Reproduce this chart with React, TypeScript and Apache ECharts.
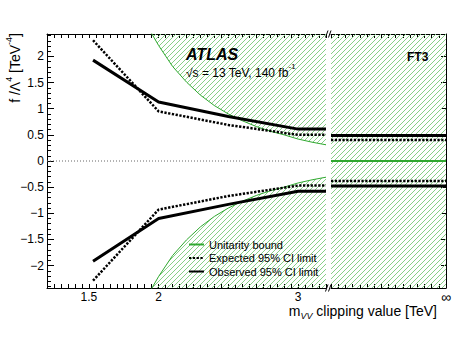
import React, { useEffect, useRef } from 'react';
import * as echarts from 'echarts';

const FONT = '"Liberation Sans", Arial, Helvetica, sans-serif';

// Clipping values (TeV) where the limits were evaluated (left panel)
const clipX = [1.53, 2.0, 2.5, 3.0, 3.2];
const observedUp = [1.93, 1.13, 0.85, 0.61, 0.61];
const expectedUp = [2.31, 0.95, 0.69, 0.5, 0.5];
const observedDown = [-1.92, -1.1, -0.83, -0.58, -0.58];
const expectedDown = [-2.29, -0.93, -0.67, -0.47, -0.47];

// Unitarity bound (left panel)
const unitX = [1.9, 1.95, 2.0, 2.1, 2.2, 2.3, 2.4, 2.5, 2.6, 2.7, 2.8, 2.9, 3.0, 3.1, 3.2];
const unitUp = [2.71, 2.44, 2.21, 1.81, 1.51, 1.26, 1.06, 0.9, 0.77, 0.66, 0.57, 0.5, 0.42, 0.36, 0.31];
const unitDown = [-2.71, -2.44, -2.21, -1.81, -1.51, -1.26, -1.06, -0.9, -0.77, -0.66, -0.57, -0.5, -0.42, -0.36, -0.31];

// No clipping (infinity, right panel)
const infX = [0, 1];
const observedInf = [0.49, -0.48];
const expectedInf = [0.4, -0.385];
const unitInf = 0.0;

// Axis labels
const xTickValues = [1.5, 2, 3];
const xTickText = ['1.5', '2', '3'];
const yTickValues = [-2, -1.5, -1, -0.5, 0, 0.5, 1, 1.5, 2];
const yTickText = ['\u22122', '\u22121.5', '\u22121', '\u22120.5', '0', '0.5', '1', '1.5', '2'];

const Y_MIN = -2.43;
const Y_MAX = 2.43;
const X_MIN = 1.2;
const X_MAX = 3.2;

function makeHatch(): string {
  const n = 5;
  const c = document.createElement('canvas');
  c.width = n;
  c.height = n;
  const ctx = c.getContext('2d')!;
  const img = ctx.createImageData(n, n);
  for (let y = 0; y < n; y++) {
    for (let x = 0; x < n; x++) {
      if ((x + y) % n === n - 1) {
        const i = (y * n + x) * 4;
        img.data[i] = 135;
        img.data[i + 1] = 208;
        img.data[i + 2] = 135;
        img.data[i + 3] = 255;
      }
    }
  }
  ctx.putImageData(img, 0, 0);
  return c.toDataURL();
}

const pair = (xs: number[], ys: number[]) => xs.map((x, i) => [x, ys[i]]);

export default function App() {
  const ref = useRef<HTMLDivElement>(null);
  useEffect(() => {
    if (!ref.current) return;
    const chart = echarts.init(ref.current, undefined, { renderer: 'svg' });
    const hatch: any = { image: makeHatch(), repeat: 'repeat', imageWidth: 5, imageHeight: 5 };
    const GREEN = '#2fa82f';
    const axisLine = { show: true, onZero: false, lineStyle: { color: '#000', width: 1 } };
    const fmtX = (v: number) => {
      const i = xTickValues.findIndex((t) => Math.abs(t - v) < 1e-6);
      return i >= 0 ? xTickText[i] : '';
    };
    const fmtY = (v: number) => {
      const i = yTickValues.findIndex((t) => Math.abs(t - v) < 1e-6);
      return i >= 0 ? yTickText[i] : '';
    };
    const lbl = { fontFamily: FONT, fontSize: 12, color: '#000' };
    const expStyle = { color: '#000', width: 2.5, type: [2.3, 1.5] as any };
    const obsStyle = { color: '#000', width: 3, type: 'solid' as any };
    const base = { type: 'line', showSymbol: false, symbol: 'none', silent: true };

    const option: any = {
      animation: false,
      grid: [
        { left: 47, top: 34, width: 279, height: 254 },
        { left: 331, top: 34, width: 115, height: 254 },
      ],
      xAxis: [
        {
          type: 'value', gridIndex: 0, min: X_MIN, max: X_MAX, interval: 0.05, position: 'bottom',
          axisLine, axisTick: { inside: true, length: 4, lineStyle: { color: '#000' } },
          axisLabel: { ...lbl, formatter: fmtX, margin: 3, showMinLabel: true, showMaxLabel: true },
          splitLine: { show: false },
        },
        {
          type: 'value', gridIndex: 0, min: X_MIN, max: X_MAX, interval: 0.05, position: 'top',
          axisLine, axisTick: { inside: true, length: 4, lineStyle: { color: '#000' } },
          axisLabel: { show: false }, splitLine: { show: false },
        },
        {
          type: 'value', gridIndex: 1, min: 0, max: 1, interval: 0.0625, position: 'bottom',
          axisLine, axisTick: { inside: true, length: 4, lineStyle: { color: '#000' } },
          axisLabel: { ...lbl, fontSize: 14, margin: 2, formatter: (v: number) => (Math.abs(v - 1) < 1e-6 ? '\u221e' : '') },
          splitLine: { show: false },
        },
        {
          type: 'value', gridIndex: 1, min: 0, max: 1, interval: 0.0625, position: 'top',
          axisLine, axisTick: { inside: true, length: 4, lineStyle: { color: '#000' } },
          axisLabel: { show: false }, splitLine: { show: false },
        },
      ],
      yAxis: [
        {
          type: 'value', gridIndex: 0, min: Y_MIN, max: Y_MAX, splitNumber: 10, minInterval: 0.5, maxInterval: 0.5,
          position: 'left', axisLine,
          axisTick: { inside: true, length: 7, lineStyle: { color: '#000' } },
          minorTick: { show: true, splitNumber: 5, length: 4, lineStyle: { color: '#000' } },
          axisLabel: { ...lbl, formatter: fmtY, margin: 3 },
          splitLine: { show: false }, minorSplitLine: { show: false },
        },
        {
          type: 'value', gridIndex: 1, min: Y_MIN, max: Y_MAX, splitNumber: 10, minInterval: 0.5, maxInterval: 0.5,
          position: 'right', axisLine,
          axisTick: { inside: true, length: 5, lineStyle: { color: '#000' } },
          axisLabel: { show: false }, splitLine: { show: false },
        },
      ],
      legend: {
        data: ['Unitarity bound', 'Expected 95% CI limit', 'Observed 95% CI limit'],
        orient: 'vertical', left: 188, top: 239, itemWidth: 15, itemHeight: 10, itemGap: 2.5,
        padding: 0, selectedMode: false,
        itemStyle: { opacity: 0 },
        textStyle: { fontFamily: FONT, fontSize: 11, color: '#000' },
      },
      series: [
        // hatched excluded regions
        { ...base, name: 'hatchUp', xAxisIndex: 0, yAxisIndex: 0, data: pair(unitX, unitUp),
          lineStyle: { width: 0, opacity: 0 }, areaStyle: { color: hatch, origin: 'end', opacity: 1 }, z: 1 },
        { ...base, name: 'hatchDown', xAxisIndex: 0, yAxisIndex: 0, data: pair(unitX, unitDown),
          lineStyle: { width: 0, opacity: 0 }, areaStyle: { color: hatch, origin: 'start', opacity: 1 }, z: 1 },
        { ...base, name: 'hatchInf', xAxisIndex: 2, yAxisIndex: 1, data: pair(infX, [Y_MAX, Y_MAX]),
          lineStyle: { width: 0, opacity: 0 }, areaStyle: { color: hatch, origin: 'start', opacity: 1 }, z: 1 },
        // unitarity bound
        { ...base, name: 'Unitarity bound', xAxisIndex: 0, yAxisIndex: 0, data: pair(unitX, unitUp),
          lineStyle: { color: GREEN, width: 1 }, itemStyle: { color: GREEN }, z: 3 },
        { ...base, name: 'Unitarity bound', xAxisIndex: 0, yAxisIndex: 0, data: pair(unitX, unitDown),
          lineStyle: { color: GREEN, width: 1 }, itemStyle: { color: GREEN }, z: 3 },
        { ...base, name: 'Unitarity bound', xAxisIndex: 2, yAxisIndex: 1, data: pair(infX, [unitInf, unitInf]),
          lineStyle: { color: GREEN, width: 2 }, itemStyle: { color: GREEN }, z: 3 },
        // zero line
        { ...base, name: 'zero', xAxisIndex: 0, yAxisIndex: 0, data: [[X_MIN, 0], [X_MAX, 0]],
          lineStyle: { color: '#666', width: 1, type: [1, 2] }, z: 2 },
        // expected
        { ...base, name: 'Expected 95% CI limit', xAxisIndex: 0, yAxisIndex: 0, data: pair(clipX, expectedUp),
          lineStyle: expStyle, itemStyle: { color: '#000' }, z: 4 },
        { ...base, name: 'Expected 95% CI limit', xAxisIndex: 0, yAxisIndex: 0, data: pair(clipX, expectedDown),
          lineStyle: expStyle, itemStyle: { color: '#000' }, z: 4 },
        { ...base, name: 'Expected 95% CI limit', xAxisIndex: 2, yAxisIndex: 1, data: pair(infX, [expectedInf[0], expectedInf[0]]),
          lineStyle: expStyle, itemStyle: { color: '#000' }, z: 4 },
        { ...base, name: 'Expected 95% CI limit', xAxisIndex: 2, yAxisIndex: 1, data: pair(infX, [expectedInf[1], expectedInf[1]]),
          lineStyle: expStyle, itemStyle: { color: '#000' }, z: 4 },
        // observed
        { ...base, name: 'Observed 95% CI limit', xAxisIndex: 0, yAxisIndex: 0, data: pair(clipX, observedUp),
          lineStyle: obsStyle, itemStyle: { color: '#000' }, z: 5 },
        { ...base, name: 'Observed 95% CI limit', xAxisIndex: 0, yAxisIndex: 0, data: pair(clipX, observedDown),
          lineStyle: obsStyle, itemStyle: { color: '#000' }, z: 5 },
        { ...base, name: 'Observed 95% CI limit', xAxisIndex: 2, yAxisIndex: 1, data: pair(infX, [observedInf[0], observedInf[0]]),
          lineStyle: obsStyle, itemStyle: { color: '#000' }, z: 5 },
        { ...base, name: 'Observed 95% CI limit', xAxisIndex: 2, yAxisIndex: 1, data: pair(infX, [observedInf[1], observedInf[1]]),
          lineStyle: obsStyle, itemStyle: { color: '#000' }, z: 5 },
      ],
      graphic: [
        {
          type: 'text', x: 186, y: 54, z: 10,
          style: { text: 'ATLAS', fontFamily: FONT, fontSize: 16, fontWeight: 'bold', fontStyle: 'italic',
            fill: '#000', align: 'left', verticalAlign: 'middle', textAlign: 'left', textVerticalAlign: 'middle' },
        },
        {
          type: 'text', x: 186, y: 72.5, z: 10,
          style: { text: '\u221as = 13 TeV, 140 fb{sup|-1}', fontFamily: FONT, fontSize: 12, lineHeight: 20,
            fill: '#000', align: 'left', verticalAlign: 'middle', textAlign: 'left', textVerticalAlign: 'middle',
            rich: { sup: { fontFamily: FONT, fontSize: 8, verticalAlign: 'top', fill: '#000' } } },
        },
        {
          type: 'text', x: 407, y: 56.5, z: 10,
          style: { text: 'FT3', fontFamily: FONT, fontSize: 12, fontWeight: 'bold',
            fill: '#000', align: 'left', verticalAlign: 'middle', textAlign: 'left', textVerticalAlign: 'middle' },
        },
        {
          type: 'text', x: 15, y: 33, rotation: Math.PI / 2, z: 10,
          style: { text: 'f /\u039b{sup|4} [TeV{sup|-4}]', fontFamily: FONT, fontSize: 14, lineHeight: 22,
            fill: '#000', align: 'right', verticalAlign: 'middle', textAlign: 'right', textVerticalAlign: 'middle',
            rich: { sup: { fontFamily: FONT, fontSize: 9, verticalAlign: 'top', fill: '#000' } } },
        },
        {
          type: 'text', x: 437, y: 310.5, z: 10,
          style: { text: 'm{sub|VV} clipping value [TeV]', fontFamily: FONT, fontSize: 14, lineHeight: 20,
            fill: '#000', align: 'right', verticalAlign: 'middle', textAlign: 'right', textVerticalAlign: 'middle',
            rich: { sub: { fontFamily: FONT, fontSize: 9, fontStyle: 'italic', verticalAlign: 'bottom', fill: '#000' } } },
        },
        // axis break marks
        { type: 'line', z: 10, shape: { x1: 325.5, y1: 37.5, x2: 328, y2: 30.5 }, style: { stroke: '#000', lineWidth: 1 } },
        { type: 'line', z: 10, shape: { x1: 328.5, y1: 37.5, x2: 331, y2: 30.5 }, style: { stroke: '#000', lineWidth: 1 } },
        { type: 'line', z: 10, shape: { x1: 325.5, y1: 291.5, x2: 328, y2: 284.5 }, style: { stroke: '#000', lineWidth: 1 } },
        { type: 'line', z: 10, shape: { x1: 328.5, y1: 291.5, x2: 331, y2: 284.5 }, style: { stroke: '#000', lineWidth: 1 } },
      ],
    };
    chart.setOption(option);
    return () => chart.dispose();
  }, []);
  return (
    <div
      ref={ref}
      style={{ position: 'fixed', left: 0, top: 0, width: 473, height: 340, background: '#fff' }}
    />
  );
}
